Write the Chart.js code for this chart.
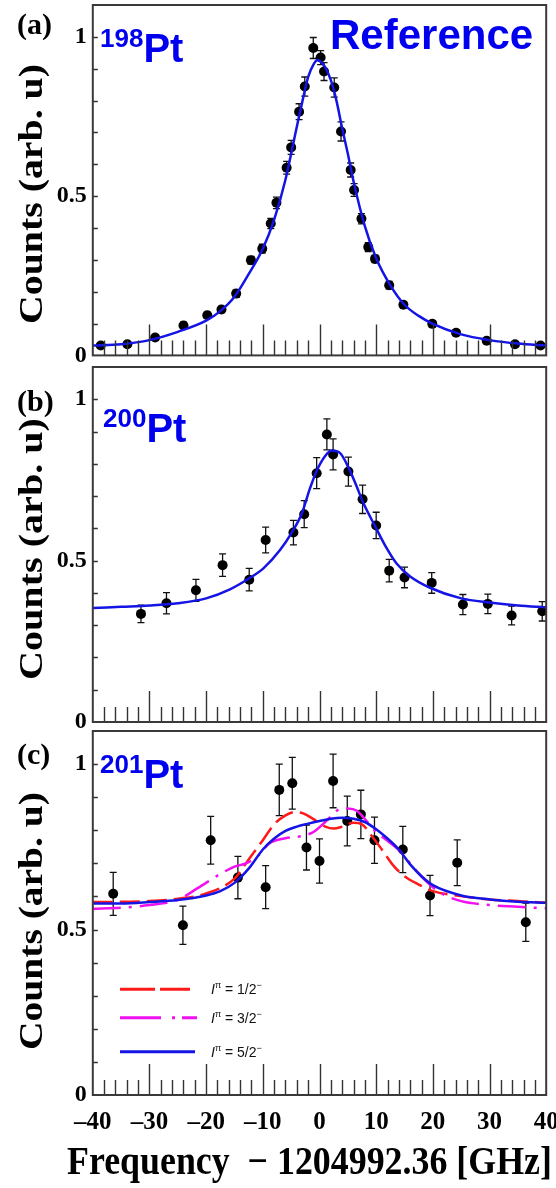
<!DOCTYPE html>
<html>
<head>
<meta charset="utf-8">
<title>Pt isotope resonance scans</title>
<script src="https://cdn.jsdelivr.net/npm/chart.js@4.4.0/dist/chart.umd.min.js"></script>
<style>
  html, body { margin:0; padding:0; background:#fff; }
  body { position:relative; width:556px; height:1188px; overflow:hidden; }
  canvas { position:absolute; left:0; }
  .txt { position:absolute; white-space:pre; line-height:1; margin:0; }
  .serif { font-family:"Liberation Serif","Times New Roman",serif; font-weight:bold; color:#000; }
  .iso { font-family:"Liberation Sans",Arial,sans-serif; font-weight:bold; color:#0000ee; font-size:40px; }
  .iso .mass { font-size:26px; position:relative; top:-15px; }
  .ylab { font-size:34px; transform-origin:50% 50%; }
  .leg { font-family:"Liberation Sans",Arial,sans-serif; font-size:14px; color:#111; }
  .leg .up { font-size:9px; position:relative; top:-6px; }
</style>
</head>
<body>
<canvas id="cA"></canvas>
<canvas id="cB"></canvas>
<canvas id="cC"></canvas>

<div class="txt serif" style="left:17px;top:9px;font-size:30px">(a)</div>
<div class="txt serif" style="left:17px;top:386px;font-size:30px">(b)</div>
<div class="txt serif" style="left:17px;top:739px;font-size:30px">(c)</div>

<div class="txt iso" style="left:100px;top:28px"><span class="mass">198</span>Pt</div>
<div class="txt iso" style="left:103px;top:408px"><span class="mass">200</span>Pt</div>
<div class="txt iso" style="left:100px;top:754px"><span class="mass">201</span>Pt</div>
<div class="txt iso" style="left:330px;top:14px;font-size:42px">Reference</div>

<div class="txt serif ylab" id="ylA">Counts (arb. u)</div>
<div class="txt serif ylab" id="ylB">Counts (arb. u)</div>
<div class="txt serif ylab" id="ylC">Counts (arb. u)</div>
<div class="txt serif" id="xTitle" style="font-size:40px;transform-origin:0 50%">Frequency  − 1204992.36 [GHz]</div>

<div class="txt leg" style="left:211px;top:982px"><i>I</i><span class="up">π</span> = 1/2<span class="up">−</span></div>
<div class="txt leg" style="left:211px;top:1011px"><i>I</i><span class="up">π</span> = 3/2<span class="up">−</span></div>
<div class="txt leg" style="left:211px;top:1045px"><i>I</i><span class="up">π</span> = 5/2<span class="up">−</span></div>

<script>
// ---- axis ranges and tick labels ----
const X_MIN = -40, X_MAX = 40, Y_MAX = 1.1;
const xTickLabels = [-40, -30, -20, -10, 0, 10, 20, 30, 40];
const yTickLabels = [0, 0.5, 1];

// ---- (a) 198Pt: measured counts, errors, fit ----
const xA = [-38.6,-33.9,-29.0,-24.0,-19.8,-17.3,-14.7,-12.1,-10.1,-8.6,-7.6,-5.8,-5.0,-3.6,-2.6,-1.1,0.2,0.8,2.6,3.8,5.5,6.1,7.4,8.6,9.8,12.3,14.8,19.9,24.1,29.5,34.5,39.0];
const yA = [0.031,0.035,0.056,0.094,0.126,0.144,0.194,0.299,0.335,0.414,0.479,0.589,0.653,0.765,0.844,0.965,0.935,0.891,0.841,0.703,0.582,0.519,0.429,0.340,0.303,0.220,0.159,0.099,0.071,0.046,0.035,0.031];
const eA = [0.008,0.008,0.008,0.010,0.010,0.010,0.012,0.012,0.014,0.016,0.018,0.020,0.022,0.025,0.030,0.033,0.022,0.028,0.030,0.030,0.022,0.020,0.016,0.014,0.012,0.012,0.010,0.010,0.008,0.008,0.008,0.008];
const fitXA = [-40,-35,-30,-25,-20,-17.5,-15,-12.5,-10,-8,-6,-4,-3,-2,-1,-0.3,0,1,2,3,4,5,6,8,10,12.5,15,17.5,20,25,30,35,40];
const fitYA = [0.031,0.035,0.048,0.074,0.109,0.139,0.184,0.255,0.335,0.426,0.552,0.718,0.799,0.874,0.915,0.927,0.925,0.905,0.864,0.799,0.713,0.633,0.547,0.406,0.305,0.220,0.159,0.124,0.099,0.066,0.048,0.037,0.031];

// ---- (b) 200Pt ----
const xB = [-31.5,-27.0,-21.8,-17.1,-12.4,-9.5,-4.6,-2.7,-0.5,1.3,2.4,5.1,7.6,10.0,12.3,15.0,19.8,25.3,29.7,33.9,39.3];
const yB = [0.335,0.368,0.408,0.486,0.441,0.564,0.587,0.644,0.771,0.891,0.829,0.776,0.690,0.609,0.469,0.448,0.431,0.364,0.366,0.330,0.343];
const eB = [0.027,0.033,0.034,0.035,0.035,0.040,0.038,0.042,0.048,0.048,0.048,0.045,0.044,0.041,0.035,0.032,0.032,0.031,0.030,0.029,0.030];
const fitXB = [-40,-35,-30,-25,-20,-15.8,-12.6,-9.9,-7,-4.9,-3.1,-1.7,-0.5,1,2.15,3.6,5.1,6.6,7.7,9.8,11.9,13.6,16,19.5,25,30,35,40];
const fitYB = [0.353,0.357,0.361,0.368,0.383,0.411,0.443,0.476,0.532,0.587,0.647,0.723,0.778,0.824,0.841,0.834,0.789,0.728,0.680,0.607,0.537,0.491,0.451,0.416,0.383,0.370,0.361,0.355];

// ---- (c) 201Pt: data and three spin hypotheses ----
const xC = [-36.4,-24.1,-19.2,-14.4,-9.5,-7.1,-4.8,-2.3,0.0,2.4,4.9,7.3,9.7,14.7,19.5,24.3,36.4];
const yC = [0.608,0.513,0.770,0.657,0.628,0.922,0.942,0.748,0.707,0.949,0.828,0.848,0.770,0.742,0.603,0.702,0.522];
const eC = [0.065,0.058,0.072,0.064,0.065,0.078,0.078,0.068,0.067,0.081,0.075,0.073,0.070,0.070,0.061,0.069,0.058];
const fitX12 = [-40,-30,-25,-20,-15,-12.5,-10,-8,-6,-4.5,-3,-1,0,1,2.5,4,6,7.5,9,11,13,15,17.5,20,25,30,35,40];
const fitY12 = [0.583,0.586,0.593,0.609,0.654,0.712,0.770,0.818,0.845,0.855,0.852,0.833,0.821,0.811,0.805,0.811,0.823,0.818,0.788,0.742,0.694,0.661,0.636,0.616,0.601,0.591,0.586,0.581];
const fitX32 = [-40,-35,-30,-25,-21.5,-17.6,-15,-13,-11,-8.8,-6,-3,-1.5,-0.8,1,2.5,3.8,5,6.6,8,10,12,14,16,18,20,22,25,30,35,40];
const fitY32 = [0.563,0.566,0.574,0.590,0.625,0.667,0.690,0.700,0.720,0.761,0.776,0.783,0.791,0.798,0.825,0.850,0.866,0.866,0.859,0.834,0.795,0.768,0.740,0.700,0.660,0.628,0.605,0.586,0.574,0.569,0.564];
const fitX52 = [-40,-35,-30,-25,-20,-17.5,-15,-12.5,-10,-8,-6,-4,-2,0,2,4,6,8,10,12,14,16,18,20,25,30,35,40];
const fitY52 = [0.579,0.579,0.583,0.589,0.603,0.616,0.641,0.684,0.742,0.775,0.798,0.811,0.820,0.828,0.835,0.838,0.835,0.825,0.803,0.775,0.742,0.697,0.661,0.634,0.603,0.591,0.584,0.581];

// ---- styling ----
const PLOT_LEFT = 92.8, PLOT_RIGHT = 546.2, W = 556;
const SERIF = '"Liberation Serif","Times New Roman",serif';
const RED = '#ff1a1a', MAGENTA = '#f010f0', BLUE = '#1414e6';

function pts(xs, ys) { return xs.map((x, i) => ({ x: x, y: ys[i] })); }

function decoPlugin(px, py, pe, legendRows) {
  return {
    id: 'deco',
    beforeDatasetsDraw(chart) {
      const ctx = chart.ctx, x = chart.scales.x, y = chart.scales.y;
      ctx.save();
      ctx.strokeStyle = '#111';
      ctx.lineWidth = 1.3;
      ctx.beginPath();
      px.forEach((xv, i) => {
        const cx = x.getPixelForValue(xv);
        const lo = y.getPixelForValue(py[i] - pe[i]);
        const hi = y.getPixelForValue(py[i] + pe[i]);
        ctx.moveTo(cx, lo); ctx.lineTo(cx, hi);
        ctx.moveTo(cx - 3.5, lo); ctx.lineTo(cx + 3.5, lo);
        ctx.moveTo(cx - 3.5, hi); ctx.lineTo(cx + 3.5, hi);
      });
      ctx.stroke();
      ctx.restore();
    },
    afterDatasetsDraw(chart) {
      const ctx = chart.ctx, a = chart.chartArea, x = chart.scales.x, y = chart.scales.y;
      ctx.save();
      // inward ticks along the bottom (every 2 GHz, long at every 10)
      ctx.strokeStyle = '#333';
      ctx.lineWidth = 1.4;
      ctx.beginPath();
      for (let v = X_MIN + 2; v < X_MAX; v += 2) {
        const cx = Math.round(x.getPixelForValue(v)) + 0.5;
        const len = (v % 10 === 0) ? 31 : 15;
        ctx.moveTo(cx, a.bottom); ctx.lineTo(cx, a.bottom - len);
      }
      // inward ticks on the left axis every 0.1
      for (let k = 1; k <= 10; k++) {
        const cy = Math.round(y.getPixelForValue(k / 10)) + 0.5;
        ctx.moveTo(a.left, cy); ctx.lineTo(a.left + 5, cy);
      }
      ctx.stroke();
      // frame
      ctx.strokeStyle = '#3a3a3a';
      ctx.lineWidth = 2;
      ctx.strokeRect(a.left, a.top, a.right - a.left, a.bottom - a.top);
      // legend line samples
      (legendRows || []).forEach(r => {
        ctx.strokeStyle = r.color;
        ctx.lineWidth = 3;
        ctx.setLineDash(r.dash);
        ctx.beginPath();
        ctx.moveTo(120, r.y); ctx.lineTo(r.x2, r.y);
        ctx.stroke();
      });
      ctx.restore();
    }
  };
}

function makePanel(id, top, height, plotTop, plotBottom, px, py, pe, curves, withXLabels, legendRows) {
  const cv = document.getElementById(id);
  cv.width = W; cv.height = height;
  cv.style.width = W + 'px'; cv.style.height = height + 'px';
  cv.style.top = top + 'px';
  const below = top + height - plotBottom;

  const datasets = curves.map(c => ({
    data: pts(c.x, c.y),
    showLine: true,
    borderColor: c.color,
    borderWidth: 2.5,
    borderDash: c.dash,
    pointRadius: 0,
    fill: false,
    cubicInterpolationMode: 'monotone'
  }));
  datasets.push({
    data: pts(px, py),
    showLine: false,
    pointRadius: 5,
    pointBackgroundColor: '#000',
    pointBorderWidth: 0
  });

  return new Chart(cv, {
    type: 'scatter',
    data: { datasets: datasets },
    options: {
      responsive: false,
      animation: false,
      devicePixelRatio: 1,
      events: [],
      layout: { padding: { top: plotTop - top, right: W - PLOT_RIGHT, left: 0, bottom: withXLabels ? 0 : below } },
      plugins: { legend: { display: false }, tooltip: { enabled: false } },
      scales: {
        x: {
          type: 'linear', min: X_MIN, max: X_MAX,
          display: withXLabels,
          grid: { display: false, drawTicks: false },
          border: { display: false },
          ticks: {
            stepSize: 10, autoSkip: false, maxRotation: 0, padding: 13,
            color: '#000',
            font: { family: SERIF, size: 25, weight: 'bold' },
            callback: v => xTickLabels.includes(v) ? (v < 0 ? '\u2013' + Math.abs(v) : String(v)) : ''
          },
          afterFit: s => { s.height = below; s.paddingLeft = 0; s.paddingRight = 0; }
        },
        y: {
          type: 'linear', min: 0, max: Y_MAX,
          grid: { display: false, drawTicks: false },
          border: { display: false },
          ticks: {
            stepSize: 0.1, autoSkip: false, padding: 6,
            color: '#000',
            font: { family: SERIF, size: 24, weight: 'bold' },
            callback: v => {
              const hit = yTickLabels.find(t => Math.abs(t - v) < 1e-6);
              return hit === undefined ? '' : String(hit);
            }
          },
          afterFit: s => { s.width = PLOT_LEFT; s.paddingTop = 0; s.paddingBottom = 0; }
        }
      }
    },
    plugins: [decoPlugin(px, py, pe, legendRows)]
  });
}

makePanel('cA', 0, 380, 3.6, 367.7, xA, yA, eA,
  [{ x: fitXA, y: fitYA, color: BLUE, dash: [] }], false);

makePanel('cB', 360, 380, 367, 731, xB, yB, eB,
  [{ x: fitXB, y: fitYB, color: BLUE, dash: [] }], false);

makePanel('cC', 724, 416, 731, 1095, xC, yC, eC,
  [
    { x: fitX52, y: fitY52, color: BLUE, dash: [] },
    { x: fitX32, y: fitY32, color: MAGENTA, dash: [28, 8, 3, 8] },
    { x: fitX12, y: fitY12, color: RED, dash: [20, 7] }
  ], true,
  [
    { color: RED, dash: [35, 5], y: 989.3 - 724, x2: 190 },
    { color: MAGENTA, dash: [41, 11, 3, 7], y: 1017.7 - 724, x2: 197 },
    { color: BLUE, dash: [], y: 1051.7 - 724, x2: 195 }
  ]);

// rotated y titles, stretched along their length
function placeRotated(id, cx, cy, len) {
  const el = document.getElementById(id);
  const w = el.offsetWidth, h = el.offsetHeight;
  el.style.left = (cx - w / 2) + 'px';
  el.style.top = (cy - h / 2) + 'px';
  el.style.transform = 'rotate(-90deg) scaleX(' + (len / w) + ')';
}
placeRotated('ylA', 31, 194, 260);
placeRotated('ylB', 31, 549, 262);
placeRotated('ylC', 31, 921, 258);

// bottom axis title
(function () {
  const el = document.getElementById('xTitle');
  const w = el.offsetWidth;
  el.style.left = '67px';
  el.style.top = '1141px';
  el.style.transform = 'scaleX(' + (485 / w) + ')';
})();
</script>
</body>
</html>
